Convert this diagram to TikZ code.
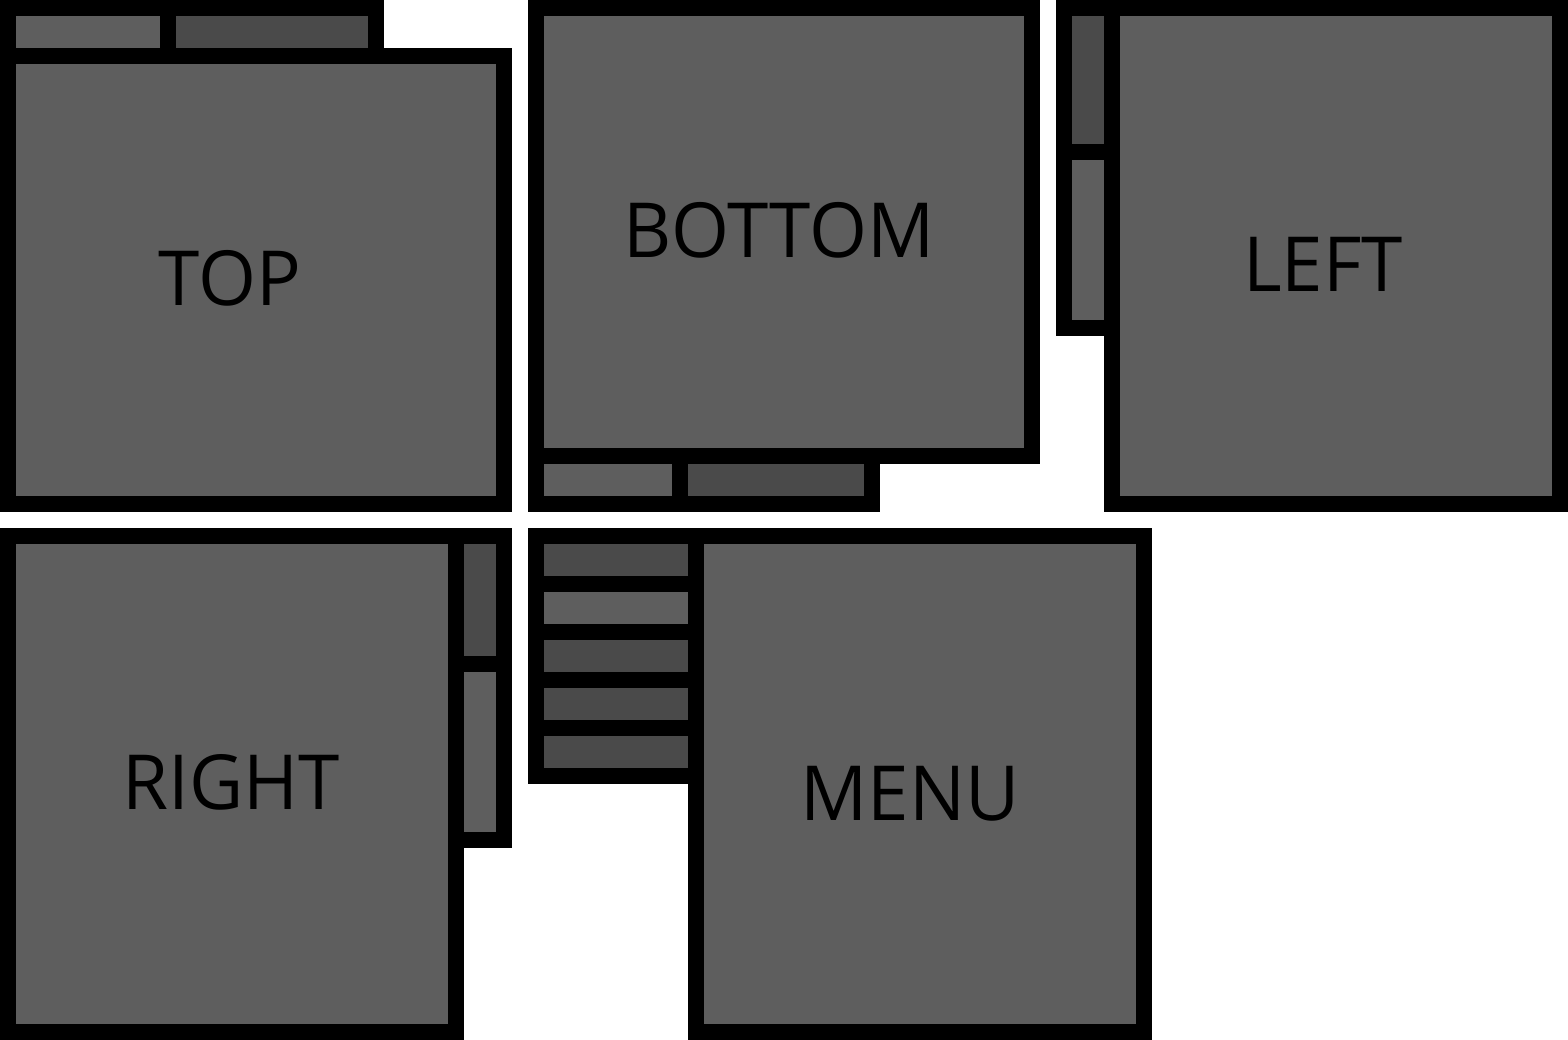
\documentclass[tikz,border=0pt]{standalone}
\usepackage{fontspec}
\setmainfont{Open Sans}
\definecolor{panelgray}{HTML}{5E5E5E}
\definecolor{tabdark}{HTML}{4A4A4A}
\definecolor{framek}{HTML}{000000}
\newcommand{\lbltext}[1]{\scalebox{0.98}[1]{#1}}
\begin{document}
\begin{tikzpicture}[x=1pt,y=-1pt,
  frame/.style={fill=framek},
  pane/.style={fill=panelgray},
  darktab/.style={fill=tabdark},
  label/.style={anchor=base,inner sep=0pt,text=black,font=\fontsize{76}{90}\selectfont}]
\useasboundingbox (0,0) rectangle (1568,1040);
\fill[white] (0,0) rectangle (1568,1040);
% ---------- TOP ----------
\fill[frame] (0,0) rectangle (384,64);
\fill[frame] (0,48) rectangle (512,512);
\fill[pane] (16,64) rectangle (496,496);
\fill[pane] (16,16) rectangle (160,48);
\fill[darktab] (176,16) rectangle (368,48);
\node[label] (top) at (230,306) {\lbltext{TOP}};
% ---------- BOTTOM ----------
\fill[frame] (528,0) rectangle (1040,464);
\fill[frame] (528,448) rectangle (880,512);
\fill[pane] (544,16) rectangle (1024,448);
\fill[pane] (544,464) rectangle (672,496);
\fill[darktab] (688,464) rectangle (864,496);
\node[label] (bottom) at (779,258) {\lbltext{BOTTOM}};
% ---------- LEFT ----------
\fill[frame] (1056,0) rectangle (1120,336);
\fill[frame] (1104,0) rectangle (1568,512);
\fill[pane] (1120,16) rectangle (1552,496);
\fill[darktab] (1072,16) rectangle (1104,144);
\fill[pane] (1072,160) rectangle (1104,320);
\node[label] (left) at (1323,292) {\lbltext{LEFT}};
% ---------- RIGHT ----------
\fill[frame] (0,528) rectangle (464,1040);
\fill[frame] (448,528) rectangle (512,848);
\fill[pane] (16,544) rectangle (448,1024);
\fill[darktab] (464,544) rectangle (496,656);
\fill[pane] (464,672) rectangle (496,832);
\node[label] (right) at (231,809) {\lbltext{RIGHT}};
% ---------- MENU ----------
\fill[frame] (528,528) rectangle (704,784);
\fill[frame] (688,528) rectangle (1152,1040);
\fill[pane] (704,544) rectangle (1136,1024);
\fill[darktab] (544,544) rectangle (688,576);
\fill[pane] (544,592) rectangle (688,624);
\fill[darktab] (544,640) rectangle (688,672);
\fill[darktab] (544,688) rectangle (688,720);
\fill[darktab] (544,736) rectangle (688,768);
\node[label] (menu) at (910,820) {\lbltext{MENU}};
\end{tikzpicture}
\end{document}
